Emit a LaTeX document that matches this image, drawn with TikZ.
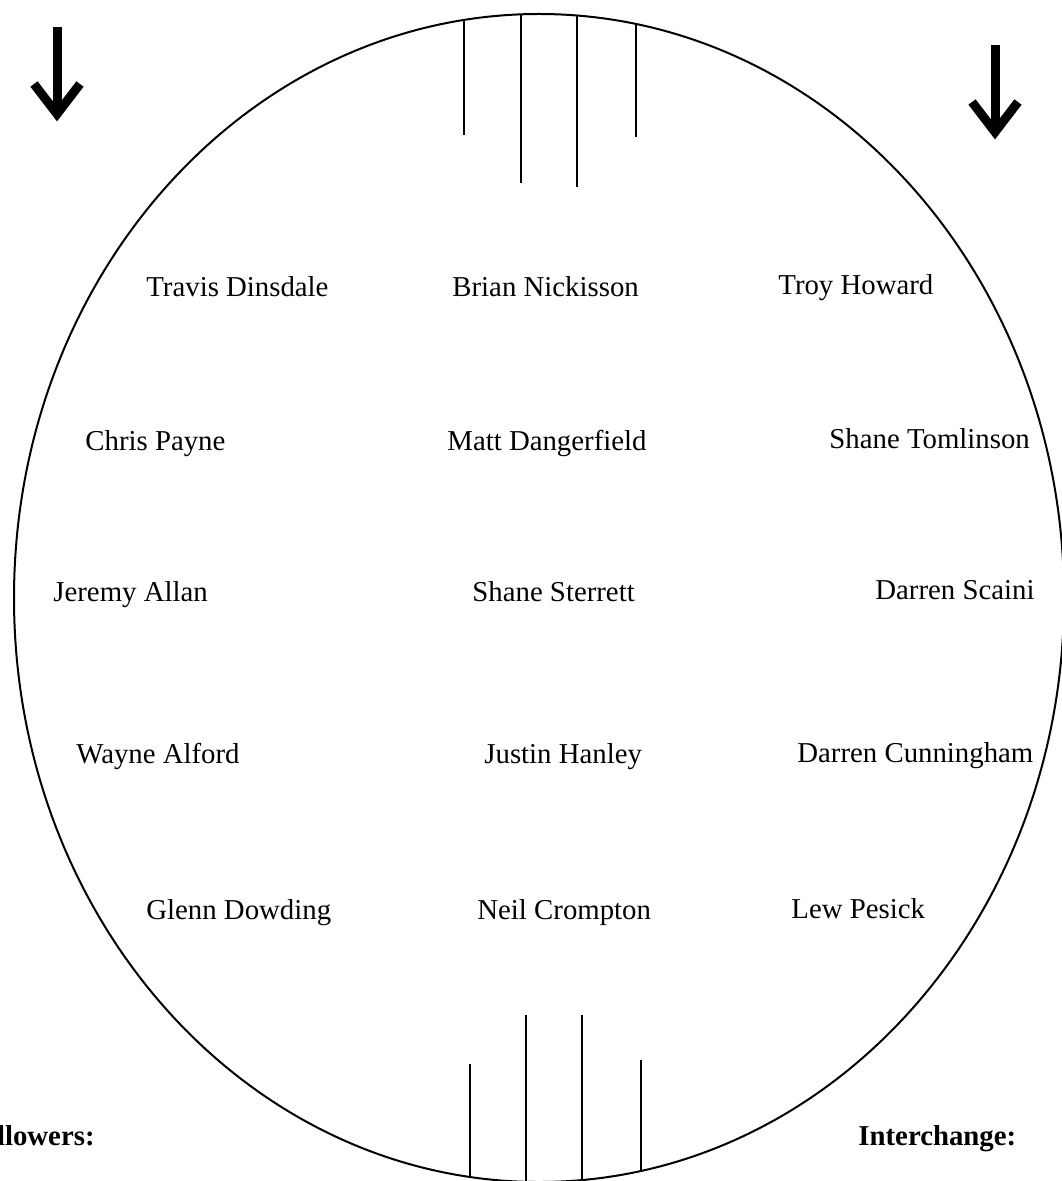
\documentclass[tikz,border=0pt]{standalone}
\usepackage{fontspec}
\setmainfont{Liberation Serif}
\begin{document}
\begin{tikzpicture}[x=0.5pt,y=-0.5pt,
  player/.style={font=\fontsize{14.4}{17}\selectfont, inner sep=0pt, anchor=base west},
  heading/.style={font=\fontsize{14.4}{17}\selectfont\bfseries, inner sep=0pt},
  goalline/.style={line width=0.75pt},
  fieldline/.style={line width=1pt},
  arrowshaft/.style={line width=4.5pt},
  arrowhead/.style={line width=4.5pt, line join=miter}]
\useasboundingbox (0,0) rectangle (1061,1181);
% oval
\draw[fieldline] (539,598) ellipse [x radius=262.5pt, y radius=292pt];
% goal posts, clipped to the oval
\begin{scope}
  \clip (539,598) ellipse [x radius=262.5pt, y radius=292pt];
  \draw[goalline] (464,0) -- (464,135);
  \draw[goalline] (521,0) -- (521,183);
  \draw[goalline] (577,0) -- (577,187);
  \draw[goalline] (636,0) -- (636,137);
  \draw[goalline] (470,1064) -- (470,1200);
  \draw[goalline] (526,1015) -- (526,1200);
  \draw[goalline] (582,1015) -- (582,1200);
  \draw[goalline] (641,1060) -- (641,1200);
\end{scope}
% direction arrows
\draw[arrowshaft] (57,27) -- (57,112);
\draw[arrowhead] (34,84) -- (57,114) -- (80,84);
\draw[arrowshaft] (995,45) -- (995,130);
\draw[arrowhead] (972,102) -- (995,132) -- (1018,102);
% players
\node[player] (p1) at (146,297) {Travis Dinsdale};
\node[player] (p2) at (452,297) {Brian Nickisson};
\node[player] (p3) at (778,295) {Troy Howard};
\node[player] (p4) at (85,450) {Chris Payne};
\node[player] (p5) at (447,450) {Matt Dangerfield};
\node[player] (p6) at (829,448) {Shane Tomlinson};
\node[player] (p7) at (53,601) {Jeremy Allan};
\node[player] (p8) at (472,601) {Shane Sterrett};
\node[player] (p9) at (875,599) {Darren Scaini};
\node[player] (p10) at (76,763) {Wayne Alford};
\node[player] (p11) at (484,763) {Justin Hanley};
\node[player] (p12) at (797,762) {Darren Cunningham};
\node[player] (p13) at (146,919) {Glenn Dowding};
\node[player] (p14) at (477,919) {Neil Crompton};
\node[player] (p15) at (791,918) {Lew Pesick};
% headings
\node[heading, anchor=base east] (fol) at (95,1145) {llowers:};
\node[heading, anchor=base west] (int) at (858,1145) {Interchange:};
\end{tikzpicture}
\end{document}
